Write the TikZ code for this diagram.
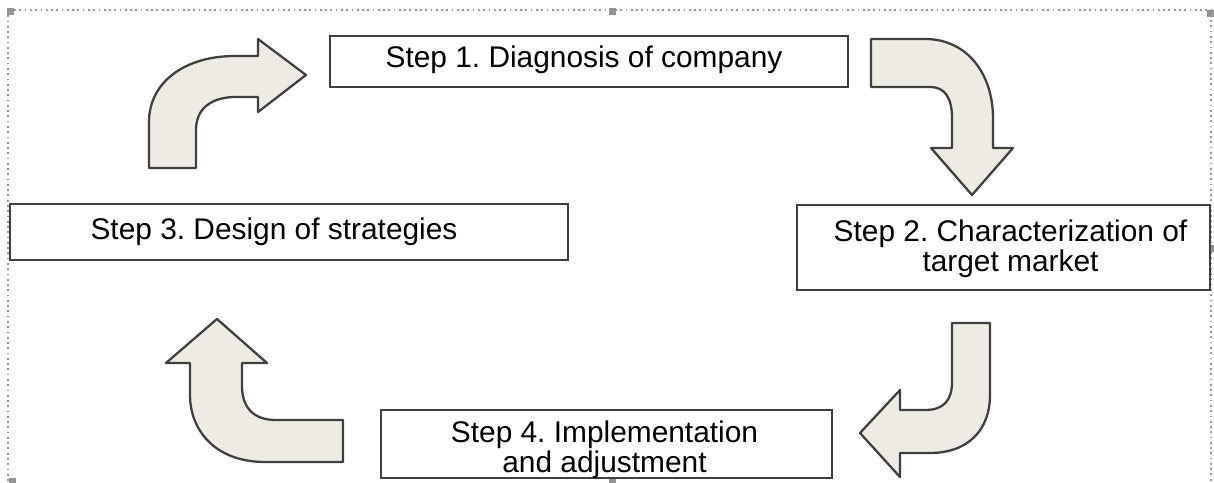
\documentclass[tikz,border=0pt]{standalone}
\usepackage{fontspec}
\setmainfont{Liberation Sans}
\frenchspacing
\definecolor{arrowfill}{RGB}{237,235,227}
\definecolor{edgegray}{RGB}{64,64,64}
\definecolor{framegray}{RGB}{150,150,150}

\def\arrowone{(149,168) -- (149,122) .. controls (149,82) and (185,56) .. (235,56) -- (258,56) -- (258,39) -- (306,75) -- (258,112) -- (258,97) -- (236,97) .. controls (212,97) and (196,108) .. (196,130) -- (196,168) -- cycle}
\def\arrowtwo{(871,39) -- (925,39) .. controls (968,39) and (993,75) .. (993,118) -- (993,148) -- (1013,148) -- (972,195) -- (931,148) -- (952,148) -- (952,118) .. controls (952,98) and (945,87) .. (930,87) -- (871,87) -- cycle}
\def\arrowthree{(952,323) -- (990,323) -- (990,395) .. controls (990,430) and (968,453) .. (930,453) -- (900,453) -- (900,477) -- (860,433) -- (900,390) -- (900,410) -- (925,410) .. controls (944,410) and (952,400) .. (952,382) -- cycle}
\def\arrowfour{(343,420) -- (343,462) -- (265,462) .. controls (215,462) and (190,430) .. (190,395) -- (190,363) -- (166,363) -- (217,319) -- (267,363) -- (242,363) -- (242,386) .. controls (242,406) and (252,420) .. (276,420) -- cycle}

\begin{document}
\begin{tikzpicture}[x=0.02cm, y=-0.02cm,
  stepbox/.style={draw=edgegray, line width=1.1pt, fill=white, inner sep=0pt},
  steptext/.style={align=center, inner sep=0pt, font=\fontsize{17}{16}\selectfont},
  bent/.style={draw=edgegray, line width=1.3pt, fill=arrowfill, line join=round},
  handle/.style={fill=gray!85}]
  \useasboundingbox (0,0) rectangle (1214,483);
  \clip (0,0) rectangle (1214,483);
  % selection frame
  \draw[framegray, dotted, line width=1pt] (8,10) rectangle (1211,495);
  \foreach \hx/\hy in {10/12, 612/12, 1210/14, 12/248, 1212/248, 12/481, 612/482}
    \fill[handle] (\hx-3.5,\hy-3.5) rectangle (\hx+3.5,\hy+3.5);
  % steps
  \node[stepbox, minimum width=10.36cm, minimum height=1.02cm] (s1) at (589,61.5) {};
  \node[stepbox, minimum width=8.26cm, minimum height=1.70cm] (s2) at (1003.5,247.5) {};
  \node[stepbox, minimum width=11.16cm, minimum height=1.12cm] (s3) at (289,232) {};
  \node[stepbox, minimum width=9.02cm, minimum height=1.36cm] (s4) at (606.5,444) {};
  \node[steptext] (t1) at ([xshift=-0.1cm, yshift=0.04cm]s1.center) {Step 1. Diagnosis of company};
  \node[steptext, font=\fontsize{17}{17}\selectfont] (t2) at ([xshift=0.14cm, yshift=-0.02cm]s2.center) {Step 2. Characterization of\\target market};
  \node[steptext] (t3) at ([xshift=-0.3cm]s3.center) {Step 3. Design of strategies};
  \node[steptext, font=\fontsize{17}{15}\selectfont] (t4) at ([xshift=-0.04cm, yshift=-0.12cm]s4.center) {Step 4. Implementation\\and adjustment};
  % bent arrows
  \draw[bent] \arrowone;
  \draw[bent] \arrowtwo;
  \draw[bent] \arrowthree;
  \draw[bent] \arrowfour;
\end{tikzpicture}
\end{document}
